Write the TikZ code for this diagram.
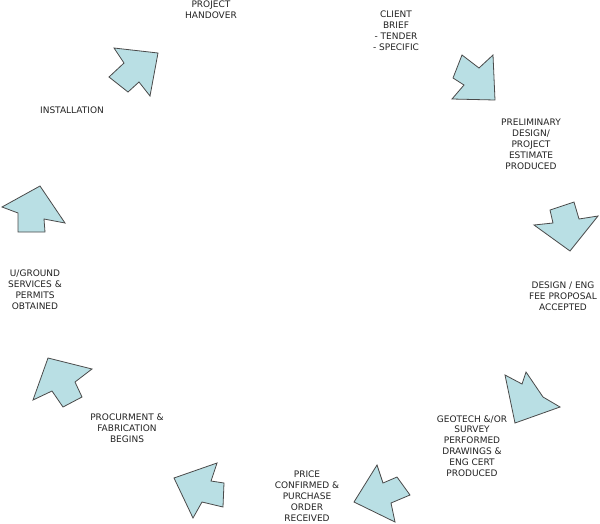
\documentclass[tikz,border=0pt]{standalone}
\usepackage{fontspec}
\newfontfamily\lblfont{DejaVu Sans}
\definecolor{arrowfill}{HTML}{B9DFE4}
\definecolor{arrowline}{HTML}{4A4A4A}
\definecolor{txt}{HTML}{222222}
\tikzset{
  blockarrow/.style={fill=arrowfill, draw=arrowline, line width=0.8pt, line join=miter},
  steplabel/.style={align=center, inner sep=0pt, text=txt, font=\lblfont\fontsize{9}{10.9}\selectfont}
}
\begin{document}
\begin{tikzpicture}[x=1pt,y=-1pt]
\useasboundingbox (0,0) rectangle (600,523);
% labels
\node[steplabel] (handover) at (211,9.5) {PROJECT\\HANDOVER};
\node[steplabel] (brief) at (396,30.5) {CLIENT\\BRIEF\\- TENDER\\- SPECIFIC};
\node[steplabel] (prelim) at (531,144) {PRELIMINARY\\DESIGN/\\PROJECT\\ESTIMATE\\PRODUCED};
\node[steplabel] (fee) at (563,296) {DESIGN / ENG\\FEE PROPOSAL\\ACCEPTED};
\node[steplabel] (geotech) at (472,446) {GEOTECH \&/OR\\SURVEY\\PERFORMED\\DRAWINGS \&\\ENG CERT\\PRODUCED};
\node[steplabel] (price) at (307,496.5) {PRICE\\CONFIRMED \&\\PURCHASE\\ORDER\\RECEIVED};
\node[steplabel] (procure) at (127,428) {PROCURMENT \&\\FABRICATION\\BEGINS};
\node[steplabel] (ground) at (35,290) {U/GROUND\\SERVICES \&\\PERMITS\\OBTAINED};
\node[steplabel] (install) at (72,110) {INSTALLATION};
% block arrows
\draw[blockarrow] (114,48) -- (158,53) -- (150,96) -- (139,82) -- (128,92) -- (109,77) -- (124,63) -- cycle;
\draw[blockarrow] (462,55) -- (479,68) -- (493,55) -- (495,100) -- (452,99) -- (464,85) -- (453,78) -- cycle;
\draw[blockarrow] (550,210) -- (574,202) -- (579,219) -- (598,216) -- (570,251) -- (534,225) -- (553,223) -- cycle;
\draw[blockarrow] (505,375) -- (522,384) -- (526,372) -- (543,397) -- (560,407) -- (515,423) -- cycle;
\draw[blockarrow] (377,465) -- (383,483) -- (397,477) -- (410,495) -- (391,503) -- (395,522) -- (354,502) -- cycle;
\draw[blockarrow] (217,463) -- (211,481) -- (224,483) -- (223,507) -- (202,502) -- (193,518) -- (174,478) -- cycle;
\draw[blockarrow] (48,358) -- (92,369) -- (75,382) -- (82,397) -- (63,407) -- (52,391) -- (33,400) -- cycle;
\draw[blockarrow] (2,207) -- (18,213) -- (18,232) -- (45,232) -- (44,219) -- (65,223) -- (40,186) -- cycle;
\end{tikzpicture}
\end{document}
